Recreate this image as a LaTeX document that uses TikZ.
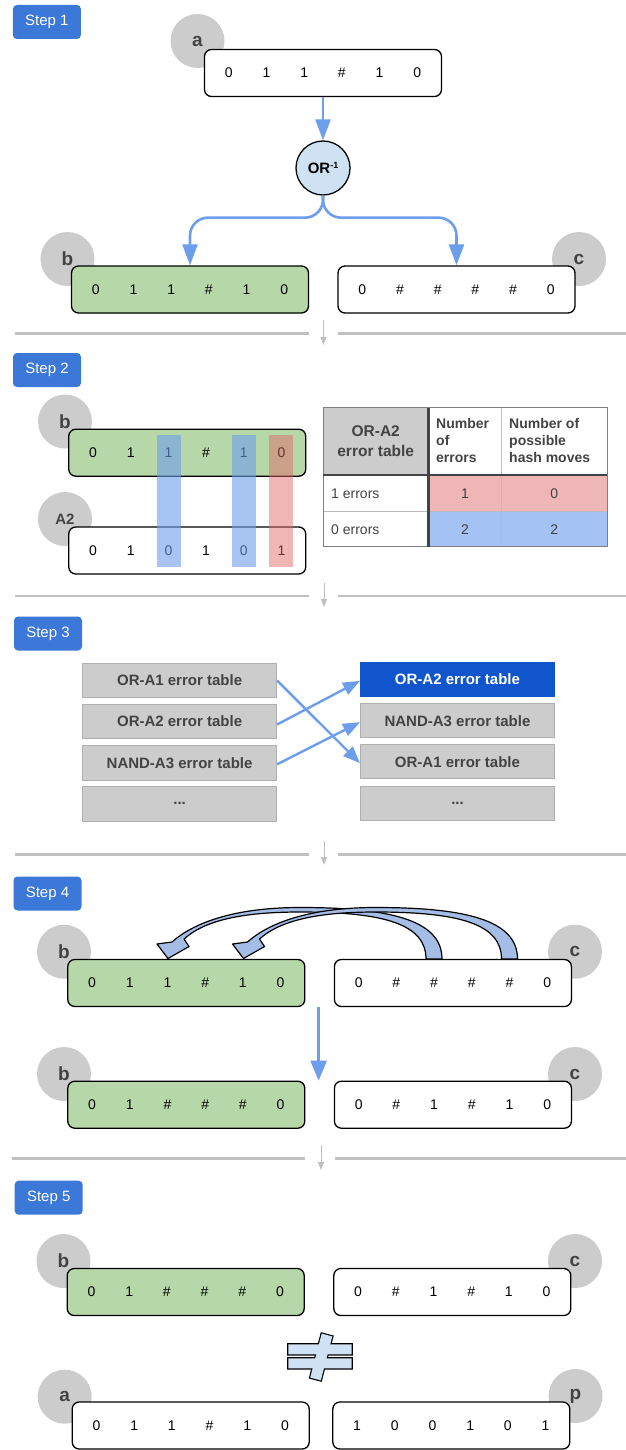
\documentclass[tikz,border=0pt]{standalone}
\usepackage{fontspec}
\setmainfont{Liberation Sans}
\usetikzlibrary{arrows.meta,calc}
\definecolor{stepblue}{HTML}{3C78D8}
\definecolor{lgray}{HTML}{CCCCCC}
\definecolor{dgray}{HTML}{434343}
\definecolor{bgreen}{HTML}{B6D7A8}
\definecolor{arrblue}{HTML}{6D9EEB}
\definecolor{pblue}{HTML}{CFE2F3}
\definecolor{sepgray}{HTML}{C0C0C0}
\definecolor{darkblue}{HTML}{1155CC}
\definecolor{tred}{HTML}{EEB6B6}
\definecolor{tblue}{HTML}{A4C2F4}
\definecolor{hlred}{HTML}{E06666}
\definecolor{blockblue}{HTML}{A3BDE6}
\definecolor{boxborder}{HTML}{B0B0B0}
\definecolor{tline}{HTML}{BBBBBB}

\newcommand{\seqrow}[5]{%
  \node[seqbox,#4] (#1) at (#2,#3) {};
  \foreach \d [count=\i] in {#5}{
    \node[digit] (#1-\i) at ($(#1.center)+({(\i-3.5)*37.7},0)$) {\d};
  }%
}
\newcommand{\blockarr}[1]{%
  \begin{scope}[xshift=#1]
    \filldraw[fill=blockblue, draw=black, line width=1.2pt, line join=round]
      (442,959) .. controls (442,920) and (390,907.5) .. (300,907.5)
      .. controls (232,907.5) and (192,924) .. (172,942)
      -- (157,944) -- (168,958.5) -- (189,946.5) -- (184,939)
      .. controls (204,921) and (240,912) .. (300,912)
      .. controls (384,912) and (426,924) .. (426,959) -- cycle;
  \end{scope}%
}

\begin{document}
\begin{tikzpicture}[x=1pt,y=-1pt,
  stepbtn/.style={fill=stepblue, rounded corners=4pt, minimum width=68pt, minimum height=34pt, text=white, font=\fontsize{15}{18}\selectfont, inner sep=0},
  lab/.style={circle, fill=lgray, minimum size=54pt, inner sep=0, text=dgray, font=\fontsize{19}{22}\selectfont\bfseries},
  seqbox/.style={draw=black, line width=1.3pt, rounded corners=7pt, minimum width=237pt, minimum height=47pt, fill=white, inner sep=0},
  digit/.style={inner sep=0, font=\fontsize{14}{17}\selectfont},
  flow/.style={draw=arrblue, line width=2.6pt, -{Triangle[length=21pt,width=15pt]}},
  flowsm/.style={draw=arrblue, line width=2.4pt, -{Triangle[length=17pt,width=13pt]}},
  sepline/.style={draw=sepgray, line width=2.6pt},
  separr/.style={draw=sepgray, line width=0.9pt, -{Triangle[length=8pt,width=6pt]}},
  tbox/.style={fill=lgray, draw=boxborder, line width=1pt, minimum width=194pt, minimum height=34.4pt, text=dgray, font=\fontsize{15}{18}\selectfont\bfseries, inner sep=0},
  thsub/.style={inner sep=0, align=left, text=dgray, font=\fontsize{14}{16.7}\selectfont\bfseries},
  tcell/.style={inner sep=0, text=dgray, font=\fontsize{14}{17}\selectfont}
]
\useasboundingbox (0,0) rectangle (626,1450);

% ---------------- Step 1
\node[stepbtn] (s1) at (46.9,22) {Step 1};
\node[lab] (la1) at (197.5,41) {a};
\seqrow{a1}{323}{73}{}{0,1,1,\#,1,0}
\node[circle, draw=black, line width=1.3pt, fill=pblue, minimum size=54pt, inner sep=0, font=\fontsize{15}{17}\selectfont\bfseries] (or) at (323,168) {OR\raisebox{5pt}{\fontsize{9}{10}\selectfont -1}};
\draw[flow] (a1.south) -- (or.north);
\node[lab] (lb1) at (67.5,259) {b};
\node[lab] (lc1) at (579,259) {c};
\seqrow{b1}{190}{289.5}{fill=bgreen}{0,1,1,\#,1,0}
\seqrow{c1}{456.5}{289.5}{}{0,\#,\#,\#,\#,0}
\draw[flow, rounded corners=18pt] (or.south) -- ($(or.south)+(0,22)$) -| (b1.north);
\draw[flow, rounded corners=18pt] (or.south) -- ($(or.south)+(0,22)$) -| (c1.north);

% separator 1
\draw[sepline] (15,333.3) -- (308.6,333.3);
\draw[sepline] (338,333.3) -- (626,333.3);
\coordinate (sa1) at (323.5,320);
\coordinate (sb1) at (323.5,345);
\draw[separr] (sa1) -- (sb1);

% ---------------- Step 2
\node[stepbtn] (s2) at (47,370) {Step 2};
\node[lab] (lb2) at (65,421.5) {b};
\node[lab, font=\fontsize{15}{18}\selectfont\bfseries] (lA2) at (65,519) {A2};
\seqrow{b2}{187.25}{452.7}{fill=bgreen}{0,1,1,\#,1,0}
\seqrow{A2}{187.25}{550.5}{}{0,1,0,1,0,1}
\fill[arrblue, opacity=0.6] (157,435) rectangle (181,566.7);
\fill[arrblue, opacity=0.6] (232,435) rectangle (256,566.7);
\fill[hlred, opacity=0.48] (269,435) rectangle (293,566.7);

% table
\fill[lgray] (323,407.7) rectangle (428.4,475);
\fill[tred] (428.4,475) rectangle (607,511.7);
\fill[tblue] (428.4,511.7) rectangle (607,546.7);
\node[inner sep=0, align=center, text=dgray, font=\fontsize{15.5}{20}\selectfont\bfseries] (th1) at (375.7,441.3) {OR-A2\\error table};
\node[thsub, anchor=north west] (th2) at (436,418.5) {Number\\of\\errors};
\node[thsub, anchor=north west] (th3) at (509,418.5) {Number of\\possible\\hash moves};
\node[tcell, anchor=west] (r1a) at (331,493.3) {1 errors};
\node[tcell] (r1b) at (465,493.3) {1};
\node[tcell] (r1c) at (554.2,493.3) {0};
\node[tcell, anchor=west] (r2a) at (331,529.2) {0 errors};
\node[tcell] (r2b) at (465,529.2) {2};
\node[tcell] (r2c) at (554.2,529.2) {2};
\draw[tline, line width=0.9pt] (501.4,407.7) -- (501.4,546.7);
\draw[tline, line width=0.9pt] (323,511.7) -- (607,511.7);
\draw[gray, line width=0.9pt] (323,407.7) rectangle (607,546.7);
\draw[dgray, line width=2.5pt] (428.4,407.7) -- (428.4,546.7);
\draw[dgray, line width=2.5pt] (323,475) -- (607,475);

% separator 2
\draw[sepline] (15,596) -- (308.6,596);
\draw[sepline] (338,596) -- (626,596);
\coordinate (sa2) at (324,583);
\coordinate (sb2) at (324,607);
\draw[separr] (sa2) -- (sb2);

% ---------------- Step 3
\node[stepbtn] (s3) at (48,633.5) {Step 3};
\node[tbox] (L1) at (179.6,680.5) {OR-A1 error table};
\node[tbox] (L2) at (179.6,721.5) {OR-A2 error table};
\node[tbox] (L3) at (179.6,762.8) {NAND-A3 error table};
\node[tbox] (L4) at (179.6,803.8) {...};
\node[tbox, fill=darkblue, draw=darkblue, text=white] (R1) at (457.5,679.3) {OR-A2 error table};
\node[tbox] (R2) at (457.5,720.7) {NAND-A3 error table};
\node[tbox] (R3) at (457.5,761.7) {OR-A1 error table};
\node[tbox] (R4) at (457.5,803.3) {...};
\draw[flowsm] (L1.east) -- ($(R3.west)+(0,1.5)$);
\draw[flowsm] ($(L2.east)+(0,3)$) -- ($(R1.west)+(0,1.5)$);
\draw[flowsm] ($(L3.east)+(0,1.5)$) -- ($(R2.west)+(0,1.5)$);

% separator 3
\draw[sepline] (15,854.3) -- (308.6,854.3);
\draw[sepline] (338,854.3) -- (626,854.3);
\coordinate (sa3) at (324,841);
\coordinate (sb3) at (324,865);
\draw[separr] (sa3) -- (sb3);

% ---------------- Step 4
\node[stepbtn] (s4) at (47.5,893.5) {Step 4};
\node[lab] (lb4) at (64,951.7) {b};
\node[lab] (lc4) at (575,951.7) {c};
\seqrow{b4}{186.3}{983}{fill=bgreen}{0,1,1,\#,1,0}
\seqrow{c4}{452.9}{983}{}{0,\#,\#,\#,\#,0}
\blockarr{0pt}
\blockarr{75.5pt}
\node[lab] (lb5) at (64,1074) {b};
\node[lab] (lc5) at (575,1074) {c};
\seqrow{b5}{186.3}{1104.7}{fill=bgreen}{0,1,\#,\#,\#,0}
\seqrow{c5}{452.9}{1104.7}{}{0,\#,1,\#,1,0}
\coordinate (d4s) at (318.6,1006.7);
\coordinate (d4e) at (318.6,1080.7);
\draw[flow, -{Triangle[length=20pt,width=16pt]}] (d4s) -- (d4e);

% separator 4
\draw[sepline] (12,1158.3) -- (305.4,1158.3);
\draw[sepline] (334.5,1158.3) -- (626,1158.3);
\coordinate (sa4) at (321,1145);
\coordinate (sb4) at (321,1170);
\draw[separr] (sa4) -- (sb4);

% ---------------- Step 5
\node[stepbtn] (s5) at (48.7,1197.7) {Step 5};
\node[lab] (lb6) at (63.5,1261) {b};
\node[lab] (lc6) at (575,1261) {c};
\seqrow{b6}{185.7}{1292}{fill=bgreen}{0,1,\#,\#,\#,0}
\seqrow{c6}{452.3}{1292}{}{0,\#,1,\#,1,0}
% not equal sign
\draw[black, line width=2.4pt, line join=miter]
  (288.3,1344.3) rectangle (351.7,1354.3)
  (288.3,1358.3) rectangle (351.7,1368.3)
  (321.7,1333.6) -- (332.3,1336.4) -- (320.8,1380.4) -- (310.2,1377.6) -- cycle;
\fill[pblue]
  (288.3,1344.3) rectangle (351.7,1354.3)
  (288.3,1358.3) rectangle (351.7,1368.3);
\fill[pblue] (321.7,1333.6) -- (332.3,1336.4) -- (320.8,1380.4) -- (310.2,1377.6) -- cycle;
\node[lab] (la7) at (64.7,1396.7) {a};
\node[lab] (lp7) at (575.5,1396) {p};
\seqrow{a7}{190.7}{1425.5}{}{0,1,1,\#,1,0}
\seqrow{p7}{451.3}{1425.5}{}{1,0,0,1,0,1}
\end{tikzpicture}
\end{document}
